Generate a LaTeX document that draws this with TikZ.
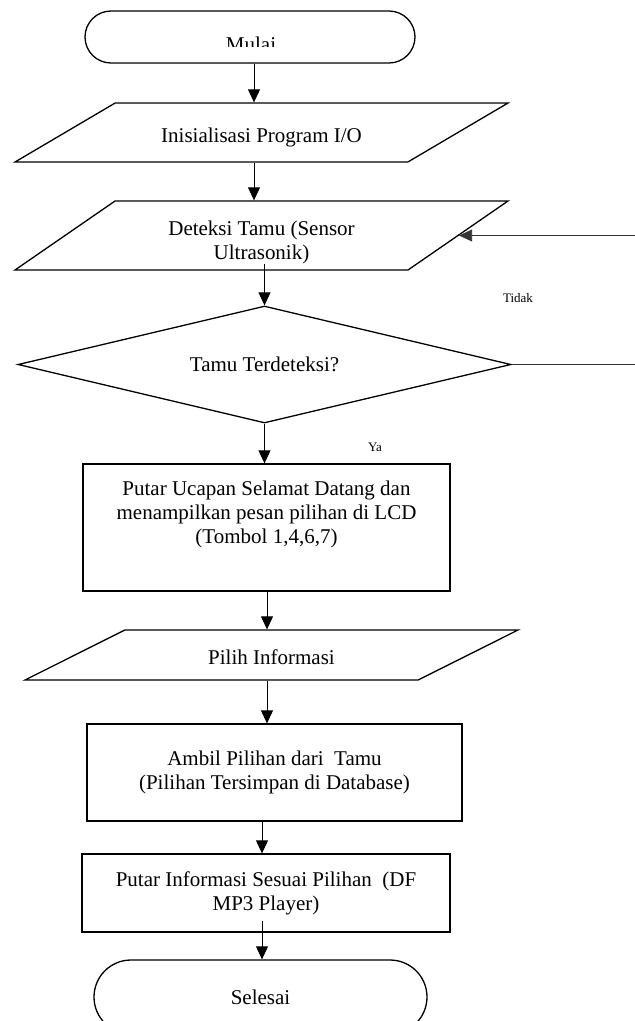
\documentclass[tikz,border=0pt]{standalone}
\usepackage{fontspec}
\setmainfont{Liberation Serif}
\usetikzlibrary{arrows.meta,shapes.geometric}

\begin{document}
\begin{tikzpicture}[x=1pt, y=-1pt, >={Triangle[length=13pt, width=12pt]},
    shapebox/.style={draw, line width=1.3pt, inner sep=0pt, align=center, font=\fontsize{21}{24}\selectfont},
    term/.style={shapebox, rounded corners=#1},
    io/.style={shapebox, trapezium, trapezium stretches body, minimum width=493pt},
    arr/.style={->, line width=0.9pt},
    fb/.style={->, line width=0.8pt, black!80},
    lbl/.style={font=\fontsize{13}{15}\selectfont}]
    \useasboundingbox (0,0) rectangle (635,1021);
    \clip (0,0) rectangle (635,1021);

    % Columns used by the arrows
    \coordinate (colA) at (254,0);
    \coordinate (colB) at (267,0);
    \coordinate (colC) at (262,0);
    \coordinate (edge) at (645,0);

    % Start terminal, the text is cut off at the bottom like in the original
    \node[term=26pt, minimum width=330pt, minimum height=52pt] (mulai) at (250,37) {};
    \begin{scope}
        \clip (mulai.north west) rectangle ([yshift=-9pt]mulai.east);
        \node[anchor=base, font=\fontsize{21}{24}\selectfont] (mulaitext) at (251,51) {Mulai};
    \end{scope}

    % Input / output blocks (text height + depth gives the slant)
    \node[io, trapezium left angle=30.5, trapezium right angle=149.5, text height=39pt, text depth=20pt, minimum height=59pt] (init) at (261.5,132.5) {Inisialisasi Program I/O};
    \node[io, trapezium left angle=34.6, trapezium right angle=145.4, text height=58pt, text depth=11pt, minimum height=69pt] (deteksi) at (261.5,235.5) {Deteksi Tamu (Sensor\\Ultrasonik)};

    % Decision
    \node[shapebox, diamond, aspect=4.2, minimum width=493pt, minimum height=117pt] (cek) at (264.5,364.5) {Tamu Terdeteksi?};
    \node[lbl] (tidak) at (518,298) {Tidak};
    \node[lbl] (ya) at (375,447) {Ya};

    % Process blocks
    \node[shapebox, minimum width=367pt, minimum height=127pt, text depth=30pt] (ucapan) at (266.5,527.5) {Putar Ucapan Selamat Datang dan\\menampilkan pesan pilihan di LCD\\(Tombol 1,4,6,7)};
    \node[io, trapezium left angle=26.6, trapezium right angle=153.4, text height=34pt, text depth=16pt, minimum height=50pt] (pilih) at (271.5,655) {Pilih Informasi};
    \node[shapebox, minimum width=375pt, minimum height=97pt] (ambil) at (274.5,772.5) {Ambil Pilihan dari~ Tamu\\(Pilihan Tersimpan di Database)};
    \node[shapebox, minimum width=368pt, minimum height=78pt] (putar) at (266,893) {Putar Informasi Sesuai Pilihan~ (DF\\MP3 Player)};

    % End terminal
    \node[term=37pt, minimum width=333pt, minimum height=74pt] (selesai) at (260.5,997) {Selesai};

    % Arrows down the main flow
    \coordinate (dstart) at ([yshift=7pt]deteksi.south);
    \coordinate (pstart) at ([yshift=12pt]putar.south);
    \draw[arr] (mulai.south -| colA) -- (init.north -| colA);
    \draw[arr] (init.south -| colA) -- (deteksi.north -| colA);
    \draw[arr] (dstart -| cek.north) -- (cek.north);
    \draw[arr] (cek.south) -- (ucapan.north -| cek.south);
    \draw[arr] (ucapan.south -| colB) -- (pilih.north -| colB);
    \draw[arr] (pilih.south -| colB) -- (ambil.north -| colB);
    \draw[arr] (ambil.south -| colC) -- (putar.north -| colC);
    \draw[arr] (pstart -| colC) -- (selesai.north -| colC);

    % Back to detection when no guest is found
    \draw[fb] (cek.east) -- (cek.east -| edge) -- (deteksi.east -| edge) -- (deteksi.east);
\end{tikzpicture}
\end{document}
